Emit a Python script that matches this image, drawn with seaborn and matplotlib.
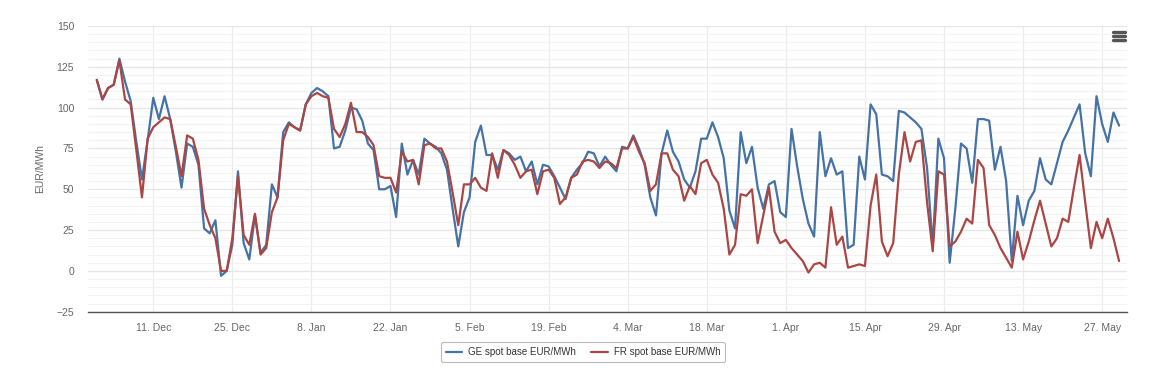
"""Daily spot base prices, GE vs FR, Dec 2023 - May 2024."""

import matplotlib
matplotlib.use("Agg")
import matplotlib.pyplot as plt
from matplotlib.lines import Line2D
from matplotlib.ticker import MultipleLocator
import pandas as pd
import seaborn as sns

START_DATE = "2023-12-01"
END_DATE = "2024-05-30"

# EUR/MWh, one value per day
ge_values = [
    # Dec
    117, 105, 112, 114, 130, 116, 104, 79, 56, 80, 106, 93, 107, 93, 73, 51,
    78, 76, 65, 26, 23, 31, -3, 0, 16, 61, 17, 7, 34, 11, 16,
    # Jan
    53, 45, 85, 91, 88, 86, 102, 109, 112, 110, 107, 75, 76, 86, 100, 99,
    92, 78, 74, 50, 50, 52, 33, 78, 59, 68, 59, 81, 78, 76, 72,
    # Feb
    62, 38, 15, 36, 45, 79, 89, 71, 71, 62, 74, 72, 68, 70, 61, 67,
    53, 65, 64, 58, 51, 44, 57, 62, 66, 73, 72, 64, 70,
    # Mar
    65, 61, 76, 75, 83, 75, 65, 45, 34, 72, 86, 73, 67, 56, 51, 61,
    81, 81, 91, 82, 69, 37, 26, 85, 66, 76, 51, 38, 53, 55, 36,
    # Apr
    33, 87, 64, 44, 29, 21, 85, 58, 69, 59, 61, 14, 16, 70, 56, 102,
    96, 59, 58, 55, 98, 97, 94, 91, 87, 63, 15, 81, 69, 5,
    # May
    38, 78, 75, 54, 93, 93, 92, 62, 76, 55, 6, 46, 28, 43, 49, 69,
    56, 53, 66, 79, 86, 94, 102, 72, 58, 107, 90, 79, 97, 89,
]

fr_values = [
    # Dec
    117, 105, 112, 114, 129, 105, 102, 74, 45, 81, 88, 91, 94, 93, 76, 58,
    83, 81, 68, 38, 28, 20, 0, 0, 20, 58, 22, 16, 35, 10, 14,
    # Jan
    36, 45, 80, 90, 88, 86, 102, 107, 109, 107, 106, 87, 82, 90, 103, 85,
    85, 82, 77, 58, 57, 57, 48, 73, 67, 68, 53, 77, 78, 75, 75,
    # Feb
    67, 48, 28, 53, 53, 57, 51, 49, 72, 57, 74, 71, 65, 57, 61, 62,
    47, 61, 62, 57, 41, 45, 57, 59, 67, 68, 67, 63, 67,
    # Mar
    66, 63, 75, 75, 82, 73, 66, 49, 53, 72, 72, 62, 58, 43, 52, 47,
    66, 68, 59, 54, 38, 10, 16, 47, 46, 50, 17, 34, 51, 24, 17,
    # Apr
    19, 14, 10, 6, -1, 4, 5, 2, 39, 16, 21, 2, 3, 4, 3, 40,
    59, 18, 9, 17, 59, 85, 67, 79, 80, 42, 12, 61, 59, 15,
    # May
    18, 24, 32, 29, 68, 63, 28, 22, 14, 8, 2, 24, 7, 18, 31, 43,
    29, 15, 20, 32, 30, 51, 71, 42, 14, 30, 20, 32, 20, 6,
]

series_names = ["GE spot base EUR/MWh", "FR spot base EUR/MWh"]
series_colors = ["#4572A7", "#AA4643"]

tick_dates = pd.date_range("2023-12-11", "2024-05-27", freq="14D")

dates = pd.date_range(START_DATE, END_DATE, freq="D")
df = pd.concat([
    pd.DataFrame({"date": dates, "price": ge_values, "series": series_names[0]}),
    pd.DataFrame({"date": dates, "price": fr_values, "series": series_names[1]}),
])

sns.set_theme(style="white")
plt.rcParams["font.family"] = ["Liberation Sans", "DejaVu Sans"]

fig = plt.figure(figsize=(11.73, 3.73), dpi=100)
ax = fig.add_axes([0.0750, 0.1643, 0.8857, 0.7660])

sns.lineplot(data=df, x="date", y="price", hue="series",
             palette=dict(zip(series_names, series_colors)),
             linewidth=1.6, ax=ax, legend=False)

ax.set_xlim(dates[0] - pd.Timedelta(days=1.56), dates[-1] + pd.Timedelta(days=1.38))
ax.set_ylim(-25, 150)

ax.yaxis.set_major_locator(MultipleLocator(25))
ax.yaxis.set_minor_locator(MultipleLocator(5))
ax.set_xticks(tick_dates)
ax.set_xticklabels([f"{d.day}. {d.strftime('%b')}" for d in tick_dates])

ax.grid(which="major", axis="y", color="#e6e6e6", linewidth=0.9)
ax.grid(which="major", axis="x", color="#ececec", linewidth=0.9)
ax.grid(which="minor", axis="y", color="#f3f3f3", linewidth=0.8)
ax.set_axisbelow(True)

for side in ["top", "right", "left"]:
    ax.spines[side].set_visible(False)
ax.spines["bottom"].set_color("#555555")
ax.spines["bottom"].set_linewidth(1.0)

ax.tick_params(axis="x", which="major", colors="#555555", length=5, width=1,
               labelsize=7.5, labelcolor="#666666", pad=3)
ax.tick_params(axis="y", which="major", colors="#ccd6eb", length=7, width=1,
               labelsize=7.5, labelcolor="#666666", pad=3)
ax.tick_params(axis="y", which="minor", length=0)

ax.set_xlabel("")
ax.set_ylabel("EUR/MWh", fontsize=7.5, color="#666666", labelpad=8)

handles = [Line2D([], [], color=c, linewidth=1.6) for c in series_colors]
leg = fig.legend(handles, series_names, loc="center",
                 bbox_to_anchor=(583 / 1173, 1 - 352 / 373), ncol=2,
                 fontsize=7, frameon=True, fancybox=True, handlelength=1.7,
                 handletextpad=0.6, columnspacing=1.6, borderpad=0.5)
leg.get_frame().set_edgecolor("#aaaaaa")
leg.get_frame().set_linewidth(0.8)
for txt in leg.get_texts():
    txt.set_color("#333333")

# hamburger menu icon, top right
for yy in [32, 36, 40]:
    fig.add_artist(Line2D([1113 / 1173, 1125 / 1173], [1 - yy / 373] * 2,
                          color="#555555", linewidth=2.4,
                          transform=fig.transFigure))

fig.savefig("out.png", dpi=100, facecolor="white")
